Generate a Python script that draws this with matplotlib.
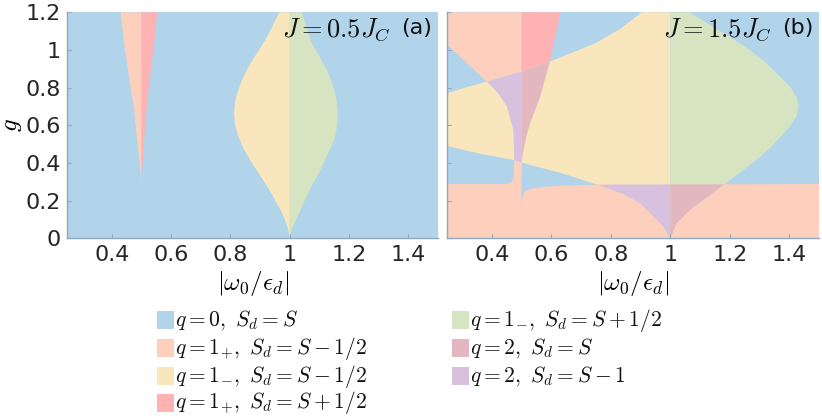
import matplotlib
matplotlib.use('Agg')
import matplotlib.pyplot as plt
from matplotlib.patches import Polygon, Rectangle

plt.rcParams['font.family'] = ['DejaVu Sans']
plt.rcParams['mathtext.fontset'] = 'cm'

# colours of the phases
c_q0 = '#b1d4ea'        # q=0, Sd=S
c_1p_minus = '#fdd0be'  # q=1+, Sd=S-1/2
c_1m_minus = '#fae6bc'  # q=1-, Sd=S-1/2
c_1p_plus = '#feb2b3'   # q=1+, Sd=S+1/2
c_1m_plus = '#d6e4c1'   # q=1-, Sd=S+1/2
c_2_S = '#e2b7bf'       # q=2, Sd=S
c_2_Sm1 = '#d7c1de'     # q=2, Sd=S-1

legend_labels = [
    r'$q=0,\ S_d=S$',
    r'$q=1_{+},\ S_d=S-1/2$',
    r'$q=1_{-},\ S_d=S-1/2$',
    r'$q=1_{+},\ S_d=S+1/2$',
    r'$q=1_{-},\ S_d=S+1/2$',
    r'$q=2,\ S_d=S$',
    r'$q=2,\ S_d=S-1$',
]
legend_colors = [c_q0, c_1p_minus, c_1m_minus, c_1p_plus, c_1m_plus, c_2_S, c_2_Sm1]

# ---- panel (a), J = 0.5 J_C : phase boundaries ----
a_lobe_g = [0.00, 0.05, 0.097, 0.14, 0.186, 0.24, 0.292, 0.35, 0.416, 0.48, 0.540,
            0.60, 0.664, 0.72, 0.770, 0.83, 0.894, 0.96, 1.036, 1.12, 1.2]
a_lobe_left = [1.0, 0.994, 0.984, 0.972, 0.956, 0.938, 0.917, 0.893, 0.866, 0.843, 0.827,
               0.816, 0.812, 0.815, 0.823, 0.836, 0.855, 0.880, 0.911, 0.940, 0.965]
a_lobe_right = [1.0, 1.007, 1.021, 1.033, 1.046, 1.062, 1.079, 1.099, 1.119, 1.138, 1.153,
                1.160, 1.162, 1.159, 1.153, 1.141, 1.125, 1.102, 1.074, 1.056, 1.040]

a_wedge_g = [0.274, 0.363, 0.504, 0.699, 0.858, 1.036, 1.2]
a_wedge_left = [0.5, 0.496, 0.487, 0.474, 0.458, 0.441, 0.430]
a_wedge_right = [0.5, 0.502, 0.508, 0.518, 0.529, 0.543, 0.553]

# ---- panel (b), J = 1.5 J_C ----
# q=1+ (S-1/2) region outline: bottom band, thin column at 0.5 and upper-left wedge
b_orange_x = [0.25, 1.5, 1.5, 0.76, 0.63, 0.578, 0.539, 0.517, 0.5055, 0.501, 0.5,
              0.5, 0.25, 0.25, 0.31, 0.382, 0.421, 0.45, 0.472, 0.475, 0.474, 0.467, 0.45, 0.25]
b_orange_g = [0.0, 0.0, 0.288, 0.285, 0.279, 0.274, 0.266, 0.256, 0.239, 0.20, 0.141,
              1.2, 1.2, 1.027, 0.94, 0.832, 0.770, 0.699, 0.575, 0.416, 0.327, 0.301, 0.288, 0.288]

# q=1+ (S+1/2) wedge right of 0.5
b_red_x = [0.5, 0.503, 0.508, 0.517, 0.528, 0.545, 0.562, 0.595, 0.631, 0.5]
b_red_g = [0.40, 0.44, 0.487, 0.55, 0.61, 0.68, 0.752, 0.938, 1.2, 1.2]

# q=1- lobe, left half (x <= 1) and right half (x >= 1)
b_lobe_left_x = [1.0, 0.976, 0.943, 0.898, 0.84, 0.758, 0.635, 0.5, 0.472, 0.354, 0.25,
                 0.25, 0.31, 0.382, 0.5, 0.595, 0.747, 0.83, 0.904, 1.0]
b_lobe_left_g = [0.0, 0.062, 0.115, 0.186, 0.235, 0.283, 0.345, 0.402, 0.416, 0.451, 0.49,
                 0.770, 0.80, 0.832, 0.885, 0.938, 1.035, 1.11, 1.2, 1.2]
b_lobe_right_x = [1.0, 1.021, 1.066, 1.12, 1.178, 1.235, 1.290, 1.335, 1.372, 1.405,
                  1.425, 1.432, 1.424, 1.405, 1.391, 1.355, 1.313, 1.25, 1.178, 1.115,
                  1.065, 1.0]
b_lobe_right_g = [0.0, 0.080, 0.150, 0.215, 0.283, 0.35, 0.416, 0.48, 0.54, 0.60,
                  0.65, 0.70, 0.75, 0.80, 0.823, 0.88, 0.945, 1.02, 1.089, 1.15,
                  1.2, 1.2]

W, H = 822, 416


def style_axes(ax, show_ylabels):
    ax.set_xlim(0.25, 1.5)
    ax.set_ylim(0, 1.2)
    ax.set_facecolor(c_q0)
    for side in ('top', 'right'):
        ax.spines[side].set_visible(False)
    for side in ('left', 'bottom'):
        ax.spines[side].set_color('#8fa8bf')
        ax.spines[side].set_linewidth(1.0)
    ax.set_xticks([0.4, 0.6, 0.8, 1.0, 1.2, 1.4])
    ax.set_xticklabels(['0.4', '0.6', '0.8', '1', '1.2', '1.4'])
    ax.set_yticks([0, 0.2, 0.4, 0.6, 0.8, 1.0, 1.2])
    if show_ylabels:
        ax.set_yticklabels(['0', '0.2', '0.4', '0.6', '0.8', '1', '1.2'])
    else:
        ax.set_yticklabels([])
    ax.tick_params(direction='in', length=3, color='#8fa8bf', labelsize=16,
                   labelcolor='#262626', pad=5)
    ax.set_xlabel(r'$|\omega_0/\epsilon_d|$', fontsize=18, labelpad=3)


def add_poly(ax, xs, ys, color, clip=None):
    p = Polygon(list(zip(xs, ys)), closed=True, facecolor=color, edgecolor='none', lw=0)
    ax.add_patch(p)
    if clip is not None:
        p.set_clip_path(clip)
    return p


def panel_label(ax, j_text, tag):
    ax.text(0.985, 0.93, tag, transform=ax.transAxes,
            ha='right', va='center', fontsize=16, color='#111111')
    ax.text(0.872, 0.925, j_text, transform=ax.transAxes,
            ha='right', va='center', fontsize=19, color='#111111')


fig = plt.figure(figsize=(W / 100, H / 100), dpi=100)
ax_a = fig.add_axes([0.0819, 0.4272, 0.451, 0.5433])
ax_b = fig.add_axes([0.5442, 0.4272, 0.4522, 0.5433])

# panel (a)
add_poly(ax_a, a_wedge_left + [0.5 for _ in a_wedge_g],
         a_wedge_g + a_wedge_g[::-1], c_1p_minus)
add_poly(ax_a, [0.5 for _ in a_wedge_g] + a_wedge_right[::-1],
         a_wedge_g + a_wedge_g[::-1], c_1p_plus)
add_poly(ax_a, a_lobe_left + [1.0 for _ in a_lobe_g],
         a_lobe_g + a_lobe_g[::-1], c_1m_minus)
add_poly(ax_a, [1.0 for _ in a_lobe_g] + a_lobe_right[::-1],
         a_lobe_g + a_lobe_g[::-1], c_1m_plus)
style_axes(ax_a, True)
ax_a.set_ylabel(r'$g$', fontsize=18, labelpad=1)
panel_label(ax_a, r'$J=0.5J_C$', '(a)')

# panel (b)
orange_b = add_poly(ax_b, b_orange_x, b_orange_g, c_1p_minus)
red_b = add_poly(ax_b, b_red_x, b_red_g, c_1p_plus)
add_poly(ax_b, b_lobe_left_x, b_lobe_left_g, c_1m_minus)
add_poly(ax_b, b_lobe_right_x, b_lobe_right_g, c_1m_plus)
# overlaps of the q=1+ and q=1- regions give the q=2 phases
add_poly(ax_b, b_lobe_left_x, b_lobe_left_g, c_2_Sm1, clip=orange_b)
add_poly(ax_b, b_lobe_left_x, b_lobe_left_g, c_2_S, clip=red_b)
add_poly(ax_b, b_lobe_right_x, b_lobe_right_g, c_2_S, clip=orange_b)
style_axes(ax_b, False)
panel_label(ax_b, r'$J=1.5J_C$', '(b)')

# legend, two columns (4 + 3 entries), placed by hand in pixels
col_x = [157, 452]
row_y = [320, 348, 376, 403]
for i, (label, color) in enumerate(zip(legend_labels, legend_colors)):
    col, row = divmod(i, 4)
    x0, yc = col_x[col], row_y[row]
    fig.add_artist(Rectangle((x0 / W, 1 - (yc + 9) / H), 17 / W, 18 / H,
                             transform=fig.transFigure, facecolor=color,
                             edgecolor='none'))
    fig.text((x0 + 18) / W, 1 - yc / H, label, ha='left', va='center',
             fontsize=15.5, color='#111111')

fig.savefig('out.png', dpi=100)
